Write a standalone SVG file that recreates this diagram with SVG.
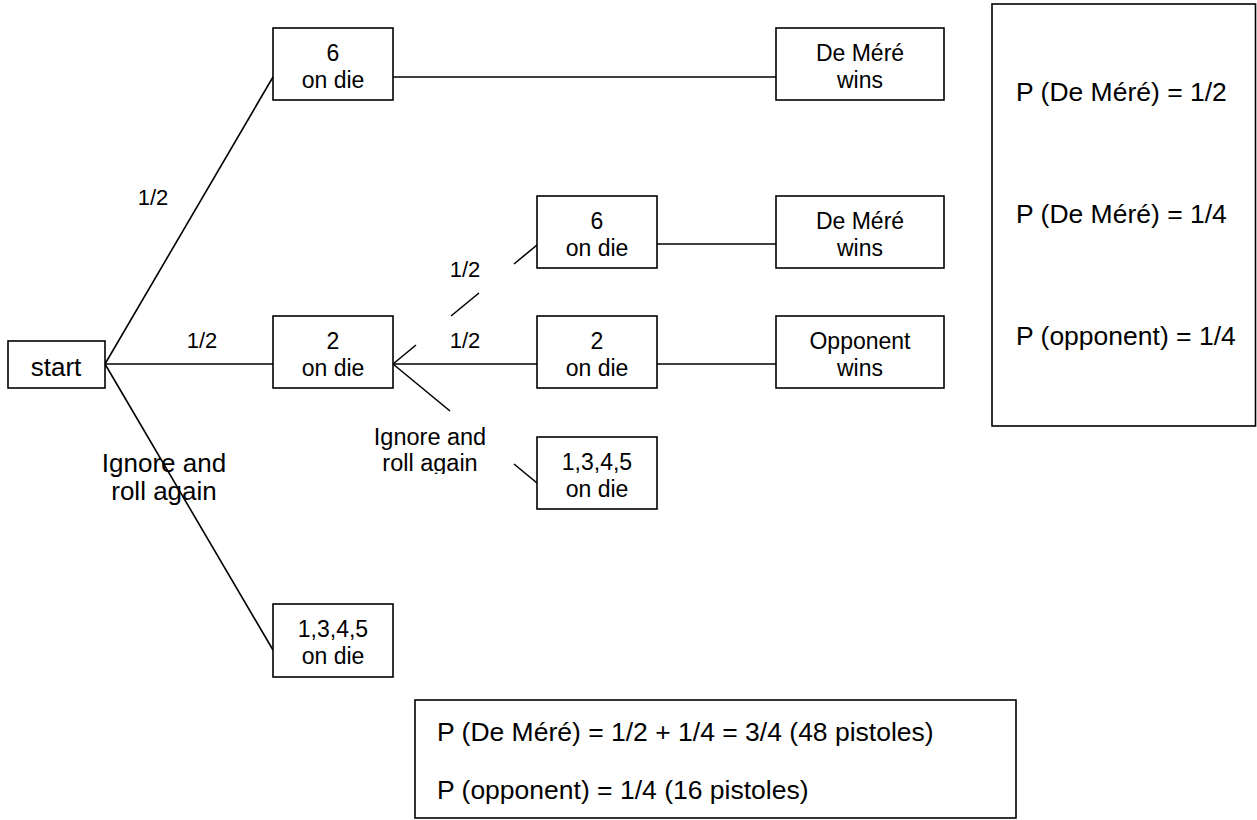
<svg xmlns="http://www.w3.org/2000/svg" width="1257" height="820" viewBox="0 0 1257 820">
<style>
rect{fill:#fff;stroke:#000;stroke-width:1.6}
line{stroke:#000;stroke-width:1.6}
text{font-family:"Liberation Sans",Arial,sans-serif;fill:#000}
.n{font-size:23px;text-anchor:middle}
.l{font-size:22px;text-anchor:middle}
.b{font-size:26.5px}
.bc{font-size:26px;text-anchor:middle}
</style>
<defs>
<clipPath id="clipIg"><rect x="360" y="415" width="150" height="59"/></clipPath>
</defs>
<g id="connectors">
<line x1="105" y1="364" x2="273" y2="77"/>
<line x1="105" y1="364" x2="273" y2="364"/>
<line x1="105" y1="364" x2="273" y2="650"/>
<line x1="393" y1="77" x2="776" y2="77"/>
<line x1="393" y1="364" x2="537" y2="364"/>
<line x1="393" y1="364" x2="416" y2="345"/>
<line x1="451" y1="316" x2="479" y2="293"/>
<line x1="514" y1="264" x2="537" y2="245"/>
<line x1="393" y1="364" x2="450" y2="411"/>
<line x1="514" y1="464" x2="537" y2="483"/>
<line x1="657" y1="244" x2="776" y2="244"/>
<line x1="657" y1="364" x2="776" y2="364"/>
</g>
<g id="labels">
<text class="l" x="153" y="205">1/2</text>
<text class="l" x="202" y="348">1/2</text>
<text class="l" x="465" y="277">1/2</text>
<text class="l" x="465" y="348">1/2</text>
<text class="bc" x="164" y="472">Ignore and</text>
<text class="bc" x="164" y="500">roll again</text>
<g clip-path="url(#clipIg)">
<text class="l" x="430" y="445" style="font-size:23.5px">Ignore and</text>
<text class="l" x="430" y="471" style="font-size:23.5px">roll again</text>
</g>
</g>
<g id="start"><rect x="8" y="341" width="97" height="47"/><text class="bc" x="56" y="376">start</text></g>
<g id="six1"><rect x="273" y="28" width="120" height="72"/><text class="n" x="333" y="61">6</text><text class="n" x="333" y="88">on die</text></g>
<g id="two1"><rect x="273" y="316" width="120" height="72"/><text class="n" x="333" y="349">2</text><text class="n" x="333" y="376">on die</text></g>
<g id="other1"><rect x="273" y="604" width="120" height="73"/><text class="n" x="333" y="637">1,3,4,5</text><text class="n" x="333" y="664">on die</text></g>
<g id="six2"><rect x="537" y="196" width="120" height="72"/><text class="n" x="597" y="229">6</text><text class="n" x="597" y="256">on die</text></g>
<g id="two2"><rect x="537" y="316" width="120" height="72"/><text class="n" x="597" y="349">2</text><text class="n" x="597" y="376">on die</text></g>
<g id="other2"><rect x="537" y="437" width="120" height="72"/><text class="n" x="597" y="470">1,3,4,5</text><text class="n" x="597" y="497">on die</text></g>
<g id="win1"><rect x="776" y="28" width="168" height="72"/><text class="n" x="860" y="61">De Méré</text><text class="n" x="860" y="88">wins</text></g>
<g id="win2"><rect x="776" y="196" width="168" height="72"/><text class="n" x="860" y="229">De Méré</text><text class="n" x="860" y="256">wins</text></g>
<g id="opp"><rect x="776" y="316" width="168" height="72"/><text class="n" x="860" y="349">Opponent</text><text class="n" x="860" y="376">wins</text></g>
<g id="summary"><rect x="992" y="4" width="263.5" height="422"/>
<text class="b" x="1016" y="101">P (De Méré) = 1/2</text>
<text class="b" x="1016" y="223">P (De Méré) = 1/4</text>
<text class="b" x="1016" y="345">P (opponent) = 1/4</text>
</g>
<g id="total"><rect x="415" y="700" width="601" height="118"/>
<text class="b" x="437" y="741">P (De Méré) = 1/2 + 1/4 = 3/4 (48 pistoles)</text>
<text class="b" x="437" y="799">P (opponent) = 1/4 (16 pistoles)</text>
</g>
</svg>
